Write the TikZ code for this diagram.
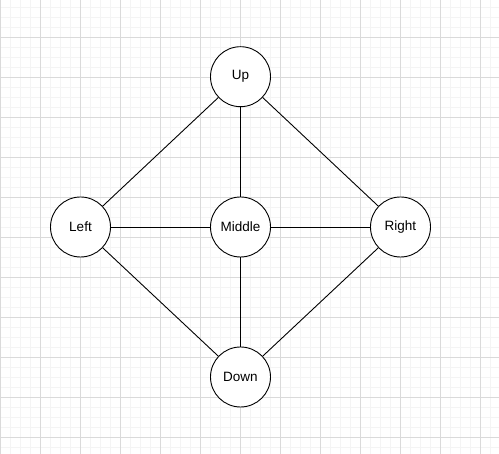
\documentclass[tikz,border=0pt]{standalone}
\usepackage{fontspec}
\setmainfont{Liberation Sans}
\usepackage{tikz}
\definecolor{gridmajor}{RGB}{218,218,218}
\definecolor{gridminor}{RGB}{244,244,244}
\tikzset{
    place/.style={draw, shape=circle, fill=white, line width=0.9pt, minimum size=60pt, inner sep=0pt, font=\fontsize{13.5}{16}\selectfont},
    link/.style={line width=0.9pt}
}
\begin{document}
\begin{tikzpicture}[x=1pt, y=1pt]
    \useasboundingbox (0,0) rectangle (499,454);
    \fill[white] (0,0) rectangle (499,454);
    \begin{scope}
        \clip (0,0) rectangle (499,454);
        \draw[gridminor, line width=0.7pt, shift={(0pt,7pt)}] (-10,-17) grid[step=10pt] (510,460);
        \draw[gridmajor, line width=0.8pt, shift={(0pt,17pt)}] (-40,-57) grid[step=40pt] (520,480);
    \end{scope}
    \node[place] (n1) at (240.5,377.3) {Up};
    \node[place] (n2) at ( 80.5,227)   {Left};
    \node[place] (n0) at (240.5,227)   {Middle};
    \node[place] (n3) at (400.5,227)   {Right};
    \node[place] (n4) at (240.5, 77)   {Down};
    \draw [link] (n1) -- (n2);
    \draw [link] (n1) -- (n0);
    \draw [link] (n1) -- (n3);
    \draw [link] (n2) -- (n0);
    \draw [link] (n0) -- (n3);
    \draw [link] (n2) -- (n4);
    \draw [link] (n0) -- (n4);
    \draw [link] (n3) -- (n4);
\end{tikzpicture}
\end{document}
